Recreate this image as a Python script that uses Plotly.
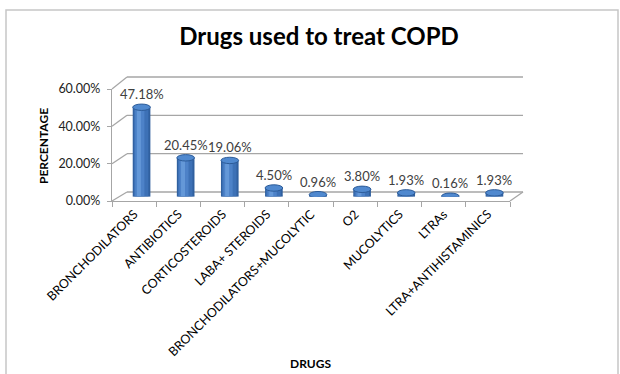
import plotly.graph_objects as go

# Drug usage shares (%) for COPD treatment
drugs = [
    "BRONCHODILATORS", "ANTIBIOTICS", "CORTICOSTEROIDS", "LABA+ STEROIDS",
    "BRONCHODILATORS+MUCOLYTIC", "O2", "MUCOLYTICS", "LTRAs",
    "LTRA+ANTIHISTAMINICS",
]
percent = [47.18, 20.45, 19.06, 4.50, 0.96, 3.80, 1.93, 0.16, 1.93]
y_ticks = [0, 20, 40, 60]

W, H = 620, 374
FONT = "Lato"


def fx(p):
    return p / W


def fy(p):
    return 1 - p / H


# pixel boxes for the pseudo-3D layout: back wall, front axes, mid-depth bars
BACK = dict(x=(127, 523), y=(192, 77))
FRONT = dict(x=(112, 510), y=(201, 89))
MID = dict(x=(119.5, 516.5), y=(196.5, 83))
YMAX = 60
n = len(drugs)


def wall_y(box, t):
    return box["y"][0] + (box["y"][1] - box["y"][0]) * t / YMAX


fig = go.Figure()

# front axes (labels, ticks, floor edge)
fig.add_trace(go.Scatter(x=drugs, y=[0] * n, xaxis="x", yaxis="y", mode="markers",
                         marker=dict(opacity=0), hoverinfo="skip", showlegend=False))

# cylinders built from layered bars for a rounded shading look
idx = list(range(n))
layers = [
    (0.40, 0.0, "#30609F"),
    (0.33, -0.01, "#3D71B6"),
    (0.21, -0.04, "#4D82C8"),
    (0.09, -0.06, "#6498D8"),
]
for w, off, col in layers:
    fig.add_trace(go.Bar(x=idx, y=percent, xaxis="x2", yaxis="y2", width=w,
                         offset=[off - w / 2] * n, marker=dict(color=col, line=dict(width=0)),
                         hoverinfo="skip", showlegend=False))

k = 3.2 * YMAX / (MID["y"][0] - MID["y"][1])  # ellipse half-height in data units
hw = 0.20
shapes = []

# back wall gridlines, left wall diagonals and right floor edge
edge = dict(color="#A6A6A6", width=1.3)
for t in y_ticks:
    shapes.append(dict(type="line", xref="paper", yref="paper", layer="below",
                       x0=fx(BACK["x"][0]), x1=fx(BACK["x"][1]),
                       y0=fy(wall_y(BACK, t)), y1=fy(wall_y(BACK, t)), line=edge))
    shapes.append(dict(type="line", xref="paper", yref="paper", layer="below",
                       x0=fx(FRONT["x"][0]), y0=fy(wall_y(FRONT, t)),
                       x1=fx(BACK["x"][0]), y1=fy(wall_y(BACK, t)), line=edge))
shapes.append(dict(type="line", xref="paper", yref="paper", layer="below",
                   x0=fx(FRONT["x"][1]), y0=fy(FRONT["y"][0]),
                   x1=fx(BACK["x"][1]), y1=fy(BACK["y"][0]), line=edge))

for i, v in enumerate(percent):
    shapes.append(dict(type="circle", xref="x2", yref="y2", x0=i - hw, x1=i + hw,
                       y0=-k, y1=k, fillcolor="#30609F", line=dict(width=0), layer="between"))
    shapes.append(dict(type="circle", xref="x2", yref="y2", x0=i - hw, x1=i + hw,
                       y0=v - k, y1=v + k, fillcolor="#5089CF",
                       line=dict(color="#2C5B98", width=1), layer="above"))

# chart frame
shapes.append(dict(type="rect", xref="paper", yref="paper",
                   x0=fx(6), x1=fx(618), y0=fy(10), y1=fy(376),
                   line=dict(color="#C6C6C6", width=1.5), fillcolor="rgba(0,0,0,0)"))

annotations = []
for i, v in enumerate(percent):
    annotations.append(dict(x=i, y=v, xref="x2", yref="y2", text=f"{v:.2f}%",
                            showarrow=False, yshift=13,
                            font=dict(family=FONT, size=13, color="#404040")))
annotations.append(dict(x=fx(43), y=fy(146), xref="paper", yref="paper", text="<b>PERCENTAGE</b>",
                        xanchor="center", yanchor="middle", textangle=-90, showarrow=False,
                        font=dict(family=FONT, size=12, color="#000")))
annotations.append(dict(x=fx(310), y=fy(363), xref="paper", yref="paper", text="<b>DRUGS</b>",
                        xanchor="center", yanchor="middle", showarrow=False,
                        font=dict(family=FONT, size=12, color="#000")))

fig.update_layout(
    width=W, height=H, autosize=False,
    margin=dict(l=0, r=0, t=0, b=0, pad=0, autoexpand=False),
    paper_bgcolor="white", plot_bgcolor="rgba(0,0,0,0)",
    barmode="overlay", hovermode=False, showlegend=False,
    title=dict(text="<b>Drugs used to treat COPD</b>", x=fx(319), y=fy(37),
               xanchor="center", yanchor="middle", automargin=False,
               font=dict(family=FONT, size=24, color="#000")),
    shapes=shapes, annotations=annotations,
    xaxis=dict(domain=[fx(FRONT["x"][0]), fx(FRONT["x"][1])], anchor="y", automargin=False,
               type="category", categoryorder="array", categoryarray=drugs,
               range=[-0.5, n - 0.5], tickson="boundaries", ticks="outside", ticklen=5,
               tickcolor="#A6A6A6", showline=True, linecolor="#A6A6A6", linewidth=1.3,
               showgrid=False, tickangle=-45,
               tickfont=dict(family=FONT, size=12.5, color="#000"), fixedrange=True),
    yaxis=dict(domain=[fy(FRONT["y"][0]), fy(FRONT["y"][1])], anchor="x", automargin=False,
               range=[0, YMAX], tickvals=y_ticks, ticktext=[f"{t:.2f}%" for t in y_ticks],
               ticks="outside", ticklen=4, tickcolor="#A6A6A6", showline=True,
               linecolor="#A6A6A6", linewidth=1.3, showgrid=False, zeroline=False,
               ticklabelstandoff=4,
               tickfont=dict(family=FONT, size=12.5, color="#222"), fixedrange=True),
    xaxis2=dict(domain=[fx(MID["x"][0]), fx(MID["x"][1])], anchor="y2", automargin=False,
                range=[-0.5, n - 0.5], visible=False, fixedrange=True),
    yaxis2=dict(domain=[fy(MID["y"][0]), fy(MID["y"][1])], anchor="x2", automargin=False,
                range=[0, YMAX], visible=False, fixedrange=True),
)

fig.write_html("out.html")
